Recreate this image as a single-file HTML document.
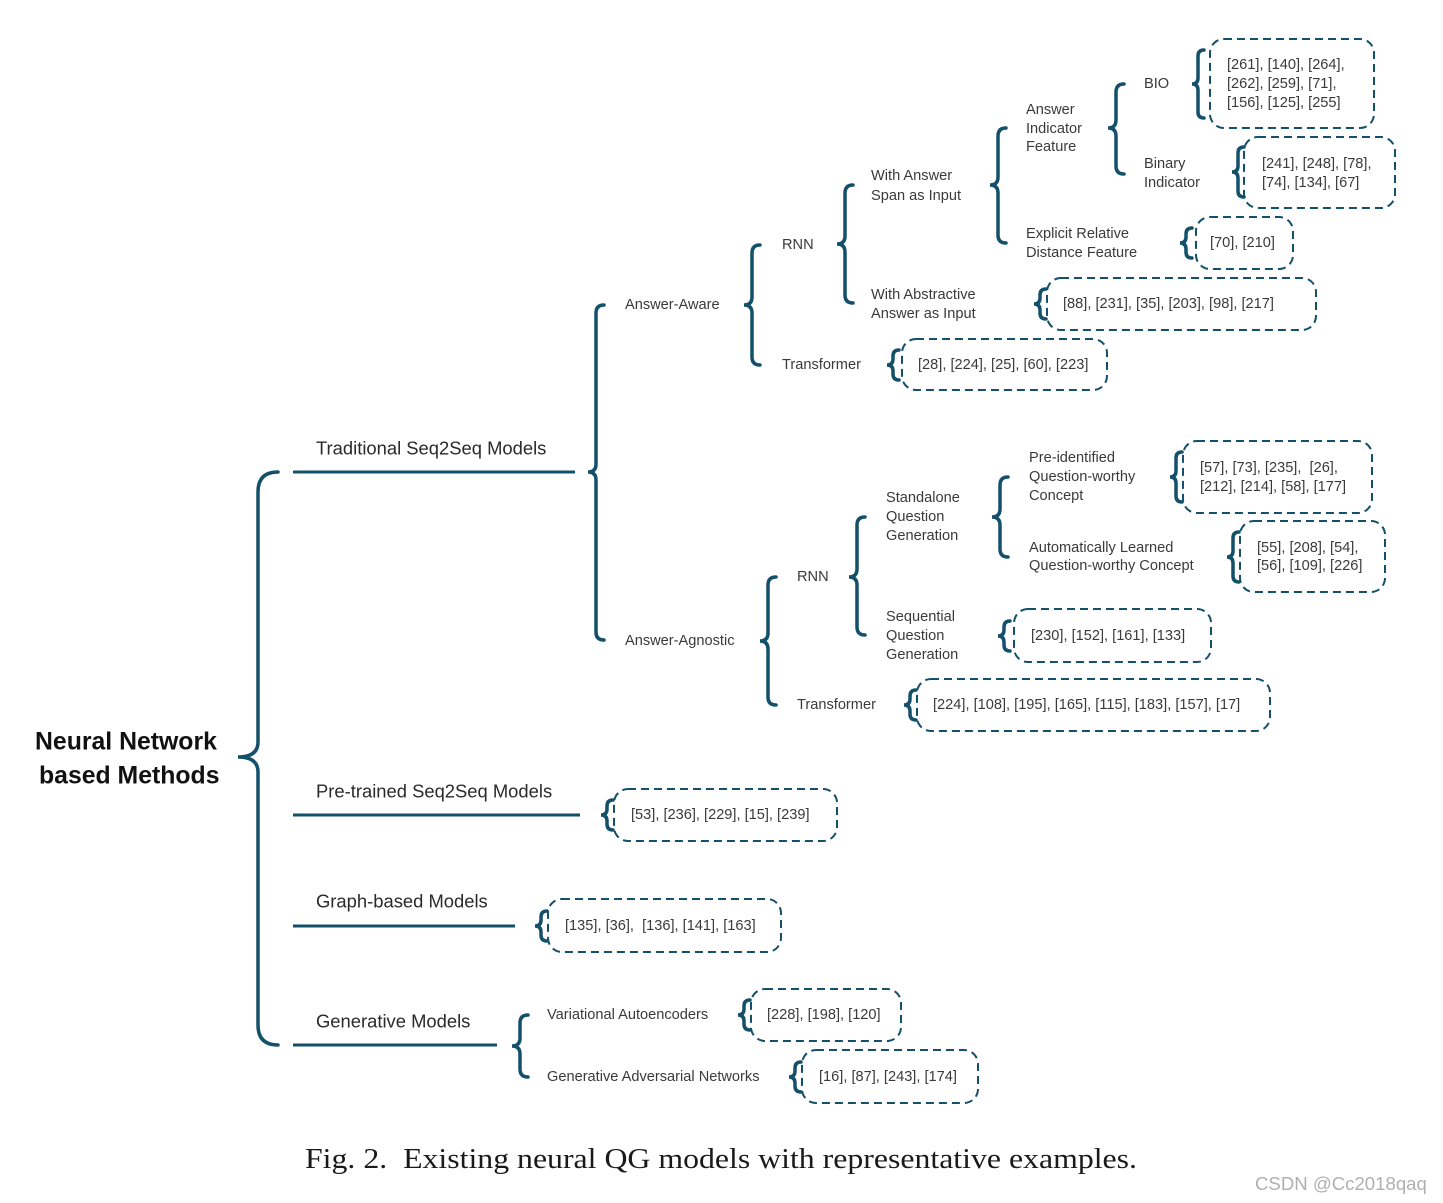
<!DOCTYPE html>
<html><head><meta charset="utf-8"><style>
html,body{margin:0;padding:0;background:#fff;}
svg{display:block;}
.s{font-family:"Liberation Sans",sans-serif;font-size:14.6px;fill:#3a3a3a;dominant-baseline:central;}
.m{font-family:"Liberation Sans",sans-serif;font-size:18.4px;fill:#2a2a2a;dominant-baseline:central;}
.b{fill:none;stroke:#14506a;stroke-width:3.5;stroke-linecap:round;}
.bx{fill:none;stroke:#14506a;stroke-width:2;stroke-dasharray:8 5;}
.ln{stroke:#14506a;stroke-width:3;}
</style></head><body>
<svg width="1443" height="1203" viewBox="0 0 1443 1203" xmlns="http://www.w3.org/2000/svg">
<text x="35" y="742" font-family="Liberation Sans,sans-serif" font-weight="bold" font-size="24.8" fill="#111" dominant-baseline="central">Neural Network</text>
<text x="39" y="776" font-family="Liberation Sans,sans-serif" font-weight="bold" font-size="24.8" fill="#111" dominant-baseline="central">based Methods</text>
<path class="b" d="M278,472 Q258,472 258,492 L258,742 Q258,757 238,757 Q258,757 258,772 L258,1025 Q258,1045 278,1045"/>
<line class="ln" x1="293" y1="472" x2="575" y2="472"/>
<line class="ln" x1="293" y1="815" x2="580" y2="815"/>
<line class="ln" x1="293" y1="926" x2="515" y2="926"/>
<line class="ln" x1="293" y1="1045" x2="497" y2="1045"/>
<text class="m" x="316" y="448">Traditional Seq2Seq Models</text>
<text class="m" x="316" y="791">Pre-trained Seq2Seq Models</text>
<text class="m" x="316" y="901">Graph-based Models</text>
<text class="m" x="316" y="1021">Generative Models</text>

<path class="b" d="M604,305 Q596,305 596,313 L596,464 Q596,472 588,472 Q596,472 596,480 L596,632 Q596,640 604,640"/>
<path class="b" d="M760,245 Q752,245 752,253 L752,297 Q752,305 744,305 Q752,305 752,313 L752,357 Q752,365 760,365"/>
<path class="b" d="M853,185 Q845,185 845,193 L845,236 Q845,244 837,244 Q845,244 845,252 L845,295 Q845,303 853,303"/>
<path class="b" d="M1006,128 Q998,128 998,136 L998,177 Q998,185 990,185 Q998,185 998,193 L998,235 Q998,243 1006,243"/>
<path class="b" d="M1124,84 Q1116,84 1116,92 L1116,120 Q1116,128 1108,128 Q1116,128 1116,136 L1116,166 Q1116,174 1124,174"/>
<path class="b" d="M776,577 Q768,577 768,585 L768,633 Q768,641 760,641 Q768,641 768,649 L768,697 Q768,705 776,705"/>
<path class="b" d="M865,517 Q857,517 857,525 L857,569 Q857,577 849,577 Q857,577 857,585 L857,627 Q857,635 865,635"/>
<path class="b" d="M1008,477 Q1000,477 1000,485 L1000,509 Q1000,517 992,517 Q1000,517 1000,525 L1000,549 Q1000,557 1008,557"/>
<path class="b" d="M528,1015 Q520,1015 520,1023 L520,1038 Q520,1046 512,1046 Q520,1046 520,1054 L520,1069 Q520,1077 528,1077"/>

<path class="b" d="M1204,50 Q1198,50 1198,56 L1198,78 Q1198,84 1192,84 Q1198,84 1198,90 L1198,112 Q1198,118 1204,118"/>
<path class="b" d="M1244,147 Q1238,147 1238,153 L1238,166 Q1238,172 1232,172 Q1238,172 1238,178 L1238,191 Q1238,197 1244,197"/>
<path class="b" d="M1192,228 Q1186,228 1186,234 L1186,237 Q1186,243 1180,243 Q1186,243 1186,249 L1186,252 Q1186,258 1192,258"/>
<path class="b" d="M1046,289 Q1040,289 1040,295 L1040,298 Q1040,304 1034,304 Q1040,304 1040,310 L1040,313 Q1040,319 1046,319"/>
<path class="b" d="M899,350 Q893,350 893,356 L893,359 Q893,365 887,365 Q893,365 893,371 L893,374 Q893,380 899,380"/>
<path class="b" d="M1182,452 Q1176,452 1176,458 L1176,471 Q1176,477 1170,477 Q1176,477 1176,483 L1176,496 Q1176,502 1182,502"/>
<path class="b" d="M1239,532 Q1233,532 1233,538 L1233,551 Q1233,557 1227,557 Q1233,557 1233,563 L1233,576 Q1233,582 1239,582"/>
<path class="b" d="M1010,621 Q1004,621 1004,627 L1004,630 Q1004,636 998,636 Q1004,636 1004,642 L1004,645 Q1004,651 1010,651"/>
<path class="b" d="M916,690 Q910,690 910,696 L910,699 Q910,705 904,705 Q910,705 910,711 L910,714 Q910,720 916,720"/>
<path class="b" d="M613,800 Q607,800 607,806 L607,809 Q607,815 601,815 Q607,815 607,821 L607,824 Q607,830 613,830"/>
<path class="b" d="M547,911 Q541,911 541,917 L541,920 Q541,926 535,926 Q541,926 541,932 L541,935 Q541,941 547,941"/>
<path class="b" d="M750,1000 Q744,1000 744,1006 L744,1009 Q744,1015 738,1015 Q744,1015 744,1021 L744,1024 Q744,1030 750,1030"/>
<path class="b" d="M801,1062 Q795,1062 795,1068 L795,1071 Q795,1077 789,1077 Q795,1077 795,1083 L795,1086 Q795,1092 801,1092"/>

<rect class="bx" x="1210" y="39" width="164" height="89" rx="14"/>
<rect class="bx" x="1244" y="137" width="151" height="71" rx="14"/>
<rect class="bx" x="1196" y="217" width="97" height="52" rx="14"/>
<rect class="bx" x="1047" y="278" width="269" height="52" rx="14"/>
<rect class="bx" x="902" y="339" width="205" height="51" rx="14"/>
<rect class="bx" x="1183" y="441" width="189" height="72" rx="14"/>
<rect class="bx" x="1240" y="521" width="145" height="71" rx="14"/>
<rect class="bx" x="1014" y="609" width="197" height="53" rx="14"/>
<rect class="bx" x="917" y="679" width="353" height="52" rx="14"/>
<rect class="bx" x="614" y="789" width="223" height="52" rx="14"/>
<rect class="bx" x="548" y="899" width="233" height="53" rx="14"/>
<rect class="bx" x="751" y="989" width="150" height="52" rx="14"/>
<rect class="bx" x="802" y="1050" width="176" height="53" rx="14"/>

<text class="s" x="625" y="305">Answer-Aware</text>
<text class="s" x="625" y="641">Answer-Agnostic</text>
<text class="s" x="782" y="245">RNN</text>
<text class="s" x="782" y="365">Transformer</text>
<text class="s" x="871" y="176">With Answer</text>
<text class="s" x="871" y="196">Span as Input</text>
<text class="s" x="871" y="295">With Abstractive</text>
<text class="s" x="871" y="314">Answer as Input</text>
<text class="s" x="1026" y="110">Answer</text>
<text class="s" x="1026" y="129">Indicator</text>
<text class="s" x="1026" y="147">Feature</text>
<text class="s" x="1026" y="234">Explicit Relative</text>
<text class="s" x="1026" y="253">Distance Feature</text>
<text class="s" x="1144" y="84">BIO</text>
<text class="s" x="1144" y="164">Binary</text>
<text class="s" x="1144" y="183">Indicator</text>
<text class="s" x="1227" y="65">[261], [140], [264],</text>
<text class="s" x="1227" y="84">[262], [259], [71],</text>
<text class="s" x="1227" y="103">[156], [125], [255]</text>
<text class="s" x="1262" y="164">[241], [248], [78],</text>
<text class="s" x="1262" y="183">[74], [134], [67]</text>
<text class="s" x="1210" y="243">[70], [210]</text>
<text class="s" x="1063" y="304">[88], [231], [35], [203], [98], [217]</text>
<text class="s" x="918" y="365">[28], [224], [25], [60], [223]</text>

<text class="s" x="797" y="577">RNN</text>
<text class="s" x="797" y="705">Transformer</text>
<text class="s" x="886" y="498">Standalone</text>
<text class="s" x="886" y="517">Question</text>
<text class="s" x="886" y="536">Generation</text>
<text class="s" x="886" y="617">Sequential</text>
<text class="s" x="886" y="636">Question</text>
<text class="s" x="886" y="655">Generation</text>
<text class="s" x="1029" y="458">Pre-identified</text>
<text class="s" x="1029" y="477">Question-worthy</text>
<text class="s" x="1029" y="496">Concept</text>
<text class="s" x="1029" y="548">Automatically Learned</text>
<text class="s" x="1029" y="566">Question-worthy Concept</text>
<text class="s" x="1200" y="468" xml:space="preserve">[57], [73], [235],  [26],</text>
<text class="s" x="1200" y="487">[212], [214], [58], [177]</text>
<text class="s" x="1257" y="548">[55], [208], [54],</text>
<text class="s" x="1257" y="566">[56], [109], [226]</text>
<text class="s" x="1031" y="636">[230], [152], [161], [133]</text>
<text class="s" x="933" y="705">[224], [108], [195], [165], [115], [183], [157], [17]</text>
<text class="s" x="631" y="815">[53], [236], [229], [15], [239]</text>
<text class="s" x="565" y="926" xml:space="preserve">[135], [36],  [136], [141], [163]</text>
<text class="s" x="547" y="1015">Variational Autoencoders</text>
<text class="s" x="547" y="1077">Generative Adversarial Networks</text>
<text class="s" x="767" y="1015">[228], [198], [120]</text>
<text class="s" x="819" y="1077">[16], [87], [243], [174]</text>

<text x="305" y="1168" font-family="Liberation Serif,serif" font-size="28" fill="#1a1a1a" textLength="832" lengthAdjust="spacingAndGlyphs" xml:space="preserve">Fig. 2.  Existing neural QG models with representative examples.</text>
<text x="1255" y="1190" font-family="Liberation Sans,sans-serif" font-size="18.6" fill="#b0b0b0">CSDN @Cc2018qaq</text>
</svg>
</body></html>
